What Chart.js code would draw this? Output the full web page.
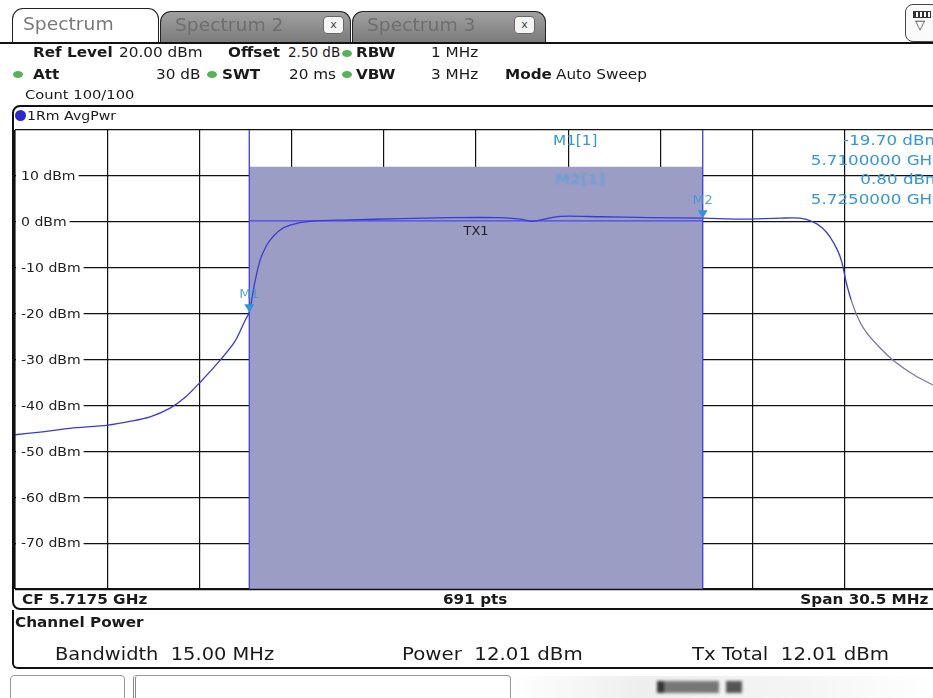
<!DOCTYPE html>
<html>
<head>
<meta charset="utf-8">
<script src="https://cdn.jsdelivr.net/npm/chart.js@4.4.1/dist/chart.umd.min.js"></script>
<style>
  html, body { margin:0; padding:0; width:933px; height:698px; overflow:hidden; background:#fff;
    font-family:"DejaVu Sans", Verdana, sans-serif; color:#1a1a1a; }
  .abs { position:absolute; white-space:nowrap; }
  .sx { transform:scaleX(1.13); transform-origin:left center; }
  .sxr { transform:scaleX(1.24); transform-origin:right center; }
  .b { font-weight:bold; }
  .tab { position:absolute; border:1.5px solid #222; border-bottom:none; border-radius:11px 11px 0 0; box-sizing:border-box; }
  .tab.on { background:#fff; }
  .tab.off { background:linear-gradient(#a0a0a0,#7a7a7a); }
  .tab .t { position:absolute; top:5px; font-size:17px; transform:scaleX(1.1); transform-origin:left center; }
  .tab.on .t { color:#7a7a7a; left:10px; }
  .tab.off .t { color:#6e6e6e; left:14px; filter:blur(0.7px); }
  .xb { position:absolute; top:6px; width:19px; height:16px; background:#f4f4f4; border:1px solid #666; border-radius:4px; font-size:11px; text-align:center; line-height:15px; color:#444; }
  .dot { position:absolute; width:10px; height:7px; border-radius:50%; background:#56b35a; }
  .hl { position:absolute; background:#111; }
  .hdr { font-size:13.5px; }
  .mk { color:#3597d6; font-size:13.5px; }
  #wrap { position:absolute; left:0; top:120px; width:960px; height:480px; }
</style>
</head>
<body>
<!-- tabs -->
<div class="tab on" style="left:12px;top:8px;width:147px;height:36px;"><span class="t">Spectrum</span></div>
<div class="tab off" style="left:160px;top:11px;width:191px;height:32px;"><span class="t" style="top:3px;">Spectrum 2</span><div class="xb" style="left:162px;top:4px;">x</div></div>
<div class="tab off" style="left:352px;top:11px;width:194px;height:32px;"><span class="t" style="top:3px;">Spectrum 3</span><div class="xb" style="left:161px;top:4px;">x</div></div>
<div class="abs" style="left:905px;top:4px;width:34px;height:38px;border:1.5px solid #444;border-radius:8px;box-sizing:border-box;background:#fafafa;">
  <div style="position:absolute;left:7px;top:6px;width:16px;height:5px;border:1px solid #333;background:repeating-linear-gradient(90deg,#333 0 2px,#fff 2px 4px);"></div>
  <div style="position:absolute;left:9px;top:12px;font-size:13px;color:#333;">▽</div>
</div>
<div class="hl" style="left:0;top:42px;width:933px;height:2px;"></div>

<!-- header -->
<div class="abs hdr b sx" style="left:33px;top:44px;">Ref Level</div>
<div class="abs hdr sx" style="left:119px;top:44px;">20.00 dBm</div>
<div class="abs hdr b sx" style="left:228px;top:44px;">Offset</div>
<div class="abs hdr" style="left:288px;top:44px;">2.50 dB</div>
<div class="dot" style="left:342px;top:50px;"></div>
<div class="abs hdr b sx" style="left:356px;top:44px;">RBW</div>
<div class="abs hdr sx" style="left:431px;top:44px;">1 MHz</div>

<div class="dot" style="left:13px;top:71px;"></div>
<div class="abs hdr b sx" style="left:33px;top:66px;">Att</div>
<div class="abs hdr sx" style="left:156px;top:66px;">30 dB</div>
<div class="dot" style="left:207px;top:71px;"></div>
<div class="abs hdr b sx" style="left:222px;top:66px;">SWT</div>
<div class="abs hdr sx" style="left:289px;top:66px;">20 ms</div>
<div class="dot" style="left:342px;top:71px;"></div>
<div class="abs hdr b sx" style="left:356px;top:66px;">VBW</div>
<div class="abs hdr sx" style="left:431px;top:66px;">3 MHz</div>
<div class="abs hdr b sx" style="left:505px;top:66px;">Mode</div>
<div class="abs hdr sx" style="left:556px;top:66px;">Auto Sweep</div>
<div class="abs hdr sx" style="left:25px;top:87px;font-size:13px;">Count 100/100</div>

<!-- trace frame -->
<div class="abs" style="left:12px;top:105px;width:940px;height:505px;border:2px solid #111;border-radius:8px 0 0 8px;box-sizing:border-box;"></div>
<div class="abs" style="left:15px;top:110px;width:11px;height:11px;border-radius:50%;background:#2a2ad0;"></div>
<div class="abs sx" style="left:27px;top:108px;font-size:12.5px;">1Rm AvgPwr</div>

<div id="wrap"><canvas id="c"></canvas></div>

<!-- marker readout -->
<div class="abs mk sx" style="left:553px;top:132px;">M1[1]</div>
<div class="abs mk sx" style="left:555px;top:171px;color:#4f9ee0;opacity:0.6;filter:blur(0.9px);font-weight:bold;">M2[1]</div>
<div class="abs mk sxr" style="right:-8px;top:132px;text-align:right;">-19.70 dBm</div>
<div class="abs mk sxr" style="right:-8px;top:152px;text-align:right;">5.7100000 GHz</div>
<div class="abs mk sxr" style="right:-8px;top:171px;text-align:right;">0.80 dBm</div>
<div class="abs mk sxr" style="right:-8px;top:191px;text-align:right;">5.7250000 GHz</div>

<!-- bottom of trace window -->
<div class="abs b sx" style="left:22px;top:591px;font-size:13.5px;">CF 5.7175 GHz</div>
<div class="abs b sx" style="left:443px;top:591px;font-size:13.5px;">691 pts</div>
<div class="abs b" style="right:5px;top:591px;font-size:13.5px;transform:scaleX(1.13);transform-origin:right center;">Span 30.5 MHz</div>

<!-- channel power panel -->
<div class="abs" style="left:12px;top:610px;width:940px;height:59px;border-left:2px solid #111;border-bottom:2.5px solid #111;border-radius:0 0 0 6px;box-sizing:border-box;"></div>
<div class="abs b sx" style="left:15px;top:614px;font-size:13.5px;">Channel Power</div>
<div class="abs sx" style="left:55px;top:644px;font-size:17.2px;">Bandwidth&nbsp; 15.00 MHz</div>
<div class="abs sx" style="left:402px;top:644px;font-size:17.5px;">Power&nbsp; 12.01 dBm</div>
<div class="abs sx" style="left:692px;top:644px;font-size:17.5px;">Tx Total&nbsp; 12.01 dBm</div>

<!-- status bar -->
<div class="abs" style="left:10px;top:675px;width:115px;height:30px;border:1px solid #999;border-radius:4px;box-sizing:border-box;"></div>
<div class="abs" style="left:133px;top:675px;width:378px;height:30px;border:1px solid #999;border-left:3px double #888;border-radius:4px;box-sizing:border-box;"></div>
<div class="abs" style="left:512px;top:676px;width:421px;height:22px;background:linear-gradient(90deg,#fff,#eee 30%,#f5f5f5 70%,#fff);"></div>
<div class="abs" style="left:657px;top:681px;width:62px;height:12px;background:linear-gradient(90deg,#333 0 12%,#777 12% 100%);filter:blur(1.5px);"></div>
<div class="abs" style="left:726px;top:681px;width:16px;height:12px;background:#555;filter:blur(1.5px);"></div>

<script>
// ---- data ----
const centerMHz = 5717.5;
const spanMHz = 30.5;
const yTicks = [20, 10, 0, -10, -20, -30, -40, -50, -60, -70, -80];
const yTickLabels = ["", "10 dBm", "0 dBm", "-10 dBm", "-20 dBm", "-30 dBm", "-40 dBm", "-50 dBm", "-60 dBm", "-70 dBm", ""];
const traceFreqMHz = [5702.25, 5703.08, 5704.07, 5705.33, 5706.05, 5706.72, 5707.38, 5707.87, 5708.37, 5709.03, 5709.53, 5709.86, 5710.0,
  5710.19, 5710.36, 5710.52, 5710.69, 5711.02, 5711.35, 5712.01, 5713.33, 5714.99, 5716.64, 5718.29, 5718.95, 5719.38, 5719.78,
  5720.28, 5721.60, 5723.25, 5725.04, 5726.23, 5727.56, 5728.22, 5728.65, 5728.95, 5729.21, 5729.48, 5729.61, 5729.74, 5729.91,
  5730.14, 5730.40, 5730.87, 5731.36, 5732.02, 5732.75];
const traceDbm = [-46.4, -45.8, -45.0, -44.3, -43.5, -42.5, -40.6, -38.3, -35.0, -30.2, -26.0, -21.5, -19.7,
  -13.0, -8.3, -5.8, -4.0, -1.8, -0.7, 0.1, 0.4, 0.7, 0.9, 0.9, 0.6, 0.1, 0.6,
  1.2, 1.1, 0.9, 0.8, 0.6, 0.8, 0.8, 0.0, -1.3, -3.3, -6.5, -9.0, -13.0, -17.0,
  -21.0, -24.0, -27.5, -30.5, -33.5, -36.0];
const channelMHz = [5710.0, 5725.0];
const channelPowerDbm = 12.01;
const txLineDbm = 0.2;
const markerNames = ["M1", "M2"];
const markerFreqMHz = [5710.0, 5725.0];
const markerDbm = [-19.7, 0.8];
const channelLabel = "TX1";

const xMin = centerMHz - spanMHz / 2, xMax = centerMHz + spanMHz / 2;
const xGrid = Array.from({length: 11}, (_, i) => xMin + i * spanMHz / 10);

const BLUE = '#3a3ad4';
const CYAN = '#2f95d8';

function stretchText(ctx, t, px, py, align) {
  const w = ctx.measureText(t).width * 1.08;
  ctx.save();
  const left = align === 'center' ? px - w / 2 : px;
  ctx.translate(left, py);
  ctx.scale(1.08, 1);
  ctx.textAlign = 'left';
  ctx.fillText(t, 0, 0);
  ctx.restore();
  return w;
}

const overlay = {
  id: 'overlay',
  beforeDatasetsDraw(chart) {
    const {ctx, chartArea: a, scales: {x, y}} = chart;
    ctx.save();
    ctx.font = '13px "DejaVu Sans"';
    ctx.textBaseline = 'middle';
    yTicks.forEach((v, i) => {
      const t = yTickLabels[i];
      if (!t) return;
      const py = y.getPixelForValue(v);
      const w = ctx.measureText(t).width * 1.08;
      ctx.fillStyle = '#fff';
      ctx.fillRect(a.left + 1, py - 8, w + 8, 16);
      ctx.fillStyle = '#222';
      stretchText(ctx, t, a.left + 6, py + 1, 'left');
    });
    ctx.restore();
  },
  afterDatasetsDraw(chart) {
    const {ctx, chartArea: a, scales: {x, y}} = chart;
    ctx.save();
    // borders
    ctx.strokeStyle = '#111';
    ctx.lineWidth = 3;
    ctx.beginPath(); ctx.moveTo(a.left - 1, a.top); ctx.lineTo(a.left - 1, a.bottom); ctx.stroke();
    ctx.lineWidth = 1.5;
    ctx.beginPath(); ctx.moveTo(a.left, a.bottom + 0.5); ctx.lineTo(a.right, a.bottom + 0.5); ctx.stroke();
    // TX1 label
    ctx.fillStyle = '#222';
    ctx.font = '12px "DejaVu Sans"';
    ctx.textBaseline = 'middle';
    const cx = x.getPixelForValue((channelMHz[0] + channelMHz[1]) / 2);
    stretchText(ctx, channelLabel, cx, y.getPixelForValue(txLineDbm) + 11, 'center');
    // markers
    markerNames.forEach((n, i) => {
      const px = x.getPixelForValue(markerFreqMHz[i]);
      const py = y.getPixelForValue(markerDbm[i]);
      ctx.fillStyle = CYAN;
      ctx.beginPath();
      ctx.moveTo(px, py); ctx.lineTo(px - 5, py - 8); ctx.lineTo(px + 5, py - 8); ctx.closePath();
      ctx.fill();
      ctx.font = '12.5px "DejaVu Sans"';
      ctx.fillStyle = 'rgba(60,150,215,0.85)';
      stretchText(ctx, n, px, py - 17, 'center');
    });
    ctx.restore();
  }
};

new Chart(document.getElementById('c'), {
  type: 'scatter',
  data: {
    datasets: [
      { data: channelMHz.map(f => ({x: f, y: channelPowerDbm})), showLine: true, fill: 'start',
        backgroundColor: 'rgb(156,157,197)', borderWidth: 0, pointRadius: 0, order: 5 },
      { data: [{x: channelMHz[0], y: yTicks[yTicks.length - 1]}, {x: channelMHz[0], y: yTicks[0]}], showLine: true,
        borderColor: '#3b3bf0', borderWidth: 1.3, pointRadius: 0, order: 4 },
      { data: [{x: channelMHz[1], y: yTicks[yTicks.length - 1]}, {x: channelMHz[1], y: yTicks[0]}], showLine: true,
        borderColor: '#3b3bf0', borderWidth: 1.3, pointRadius: 0, order: 4 },
      { data: channelMHz.map(f => ({x: f, y: txLineDbm})), showLine: true,
        borderColor: '#4848e8', borderWidth: 1.2, pointRadius: 0, order: 3 },
      { data: traceFreqMHz.map((f, i) => ({x: f, y: traceDbm[i]})), showLine: true, tension: 0.3,
        borderColor: BLUE, borderWidth: 1.3, pointRadius: 0, order: 1,
        segment: { borderColor: c => (c.p0.parsed.x > 5729.9 ? '#7a76a8' : BLUE) } }
    ]
  },
  options: {
    responsive: true, maintainAspectRatio: false, animation: false,
    layout: { padding: { left: 15, top: 10, right: 23, bottom: 11 } },
    plugins: { legend: { display: false }, tooltip: { enabled: false } },
    scales: {
      x: { type: 'linear', min: xMin, max: xMax,
        afterBuildTicks: ax => { ax.ticks = xGrid.map(v => ({value: v})); },
        ticks: { display: false }, grid: { color: '#111', lineWidth: 1.2, drawTicks: false },
        border: { display: false } },
      y: { type: 'linear', min: yTicks[yTicks.length - 1], max: yTicks[0],
        afterBuildTicks: ax => { ax.ticks = yTicks.map(v => ({value: v})); },
        ticks: { display: false }, grid: { color: '#111', lineWidth: 1.2, drawTicks: false },
        border: { display: false } }
    }
  },
  plugins: [overlay]
});
</script>
</body>
</html>
